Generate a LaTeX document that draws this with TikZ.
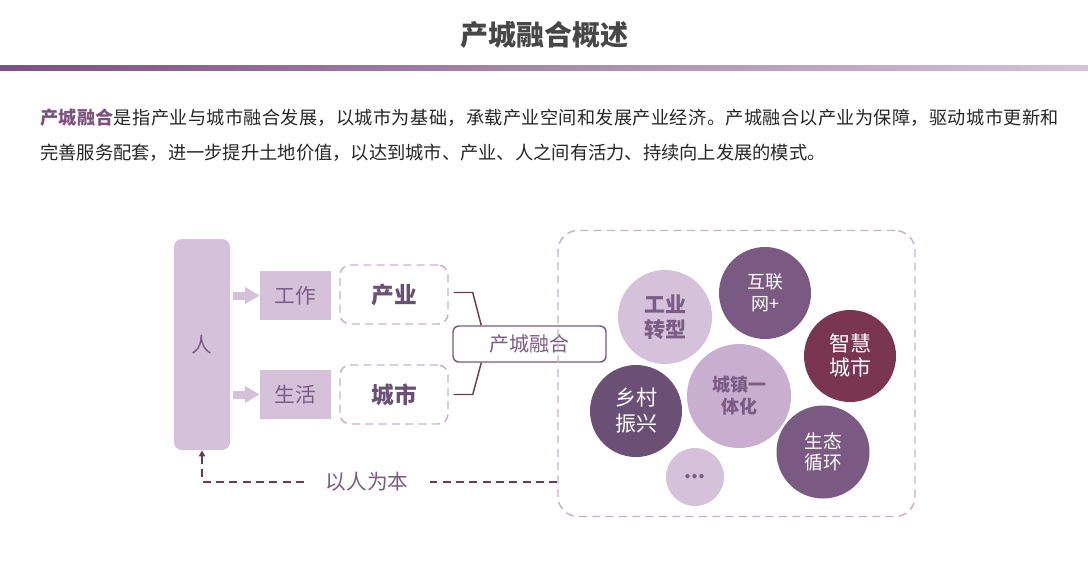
\documentclass[tikz,border=0pt]{standalone}
\usepackage{fontspec}
\setmainfont{Noto Sans CJK SC}
\newfontfamily\wideft{Noto Sans CJK SC}[LetterSpace=2.2]
\usetikzlibrary{arrows.meta}
\definecolor{LP}{HTML}{D5C1DA}
\definecolor{CP}{HTML}{C9AFCF}
\definecolor{MP}{HTML}{7A5A82}
\definecolor{DP}{HTML}{6A5075}
\definecolor{MR}{HTML}{7A3650}
\definecolor{LN}{HTML}{6E3A52}
\definecolor{TX}{HTML}{7B5C84}
\definecolor{HD}{HTML}{7D5080}
\definecolor{DS}{HTML}{C8B0CE}
\tikzset{
    RA1/.style ={rectangle, fill=LP, text=TX, minimum width=53.25pt, minimum height=36.75pt, font=\fontsize{15.5}{18}\selectfont},
    RA2/.style ={rectangle, rounded corners=7.5pt, draw=DS, line width=1.1pt, dash pattern=on 6pt off 4pt, text=DP,
                 minimum width=81pt, minimum height=44.25pt, font=\fontsize{17}{20}\selectfont\bfseries},
    CC1/.style ={circle, fill=LP, text=TX, align=center, inner sep=0pt, font=\bfseries},
    CC2/.style ={circle, fill=MP, text=white, align=center, inner sep=0pt},
    AR/.style ={line width=6pt, draw=LP, shorten <=2.25pt, -{Triangle[length=11pt,width=12pt]}},
    BR/.style ={line width=1.1pt, draw=LN},
    TL/.style ={anchor=west, inner sep=0pt, text=black!85}}

\begin{document}
\begin{tikzpicture}[x=0.75pt,y=-0.75pt]
        \useasboundingbox (0,0) rectangle (1088,562);
        % heading
        \node[text=black!72, font=\fontsize{21}{25}\selectfont\bfseries] (T) at(544,35){产城融合概述};
        \shade[left color=HD, right color=LP] (0,65) rectangle (1088,70);
        \node[TL, font=\wideft\fontsize{13.6}{16}\selectfont] (P1) at(40,118){\textcolor{HD}{\bfseries 产城融合}是指产业与城市融合发展，以城市为基础，承载产业空间和发展产业经济。产城融合以产业为保障，驱动城市更新和};
        \node[TL, font=\fontsize{13.7}{16}\selectfont] (P2) at(40,153){完善服务配套，进一步提升土地价值，以达到城市、产业、人之间有活力、持续向上发展的模式。};
        % left part
        \node[rectangle, rounded corners=6pt, fill=LP, text=TX, minimum width=42pt, minimum height=158.25pt,
              font=\fontsize{15.5}{18}\selectfont] (1) at(202,344.5){人};
        \node[RA1] (2) at(295.5,295.5){工作};
        \node[RA1] (3) at(295.5,394.5){生活};
        \node[RA2] (4) at(394,294.5){产业};
        \node[RA2] (5) at(394,394.5){城市};
        \node[rectangle, rounded corners=4.5pt, draw=MP, line width=1.1pt, fill=white, text=TX, minimum width=114.75pt,
              minimum height=27pt, font=\fontsize{15}{18}\selectfont] (6) at(529.5,344){产城融合};
        \draw[AR] (2.west -| 1.east) -- (2.west);
        \draw[AR] (3.west -| 1.east) -- (3.west);
        \draw[BR] ([xshift=3.75pt,yshift=1.5pt]4.east) -- ++(19,0) -- ([xshift=21.75pt]6.north west);
        \draw[BR] ([xshift=3.75pt]5.east) -- ++(19,0) -- ([xshift=21.75pt]6.south west);
        % right part
        \node[rectangle, rounded corners=15pt, draw=DS, line width=1.1pt, dash pattern=on 6pt off 4pt,
              minimum width=267.75pt, minimum height=214.5pt] (7) at(736.5,373.5){};
        \draw[draw=LN, line width=1.1pt, dash pattern=on 6pt off 4pt, -{Triangle[length=4.5pt,width=4.5pt]}]
              (7.west |- 0,482) -| (1.south);
        \node[fill=white, text=TX, inner xsep=16pt, font=\fontsize{15.5}{18}\selectfont] (8) at(367,482){以人为本};
        \node[CC1, minimum size=70.5pt, font=\fontsize{15.75}{18.75}\selectfont\bfseries] (11) at(665,317){工业\\转型};
        \node[CC2, minimum size=69pt, font=\fontsize{13.5}{16.5}\selectfont] (12) at(765,293){互联\\网+};
        \node[CC2, fill=MR, minimum size=69pt, font=\fontsize{15.75}{18}\selectfont] (13) at(850,356){智慧\\城市};
        \node[CC2, fill=DP, minimum size=69pt, font=\fontsize{15.75}{19.5}\selectfont] (14) at(636,411){乡村\\振兴};
        \node[CC1, fill=CP, minimum size=78pt, font=\fontsize{13.5}{16.5}\selectfont\bfseries] (15) at(739,396){城镇一\\体化};
        \node[CC2, minimum size=69.75pt, font=\fontsize{14}{16}\selectfont] (16) at(823,452){生态\\循环};
        \node[CC1, minimum size=43.5pt, font=\fontsize{15}{16}\selectfont\bfseries] (17) at(695,477){\raisebox{-3pt}{...}};
    \end{tikzpicture}
\end{document}
